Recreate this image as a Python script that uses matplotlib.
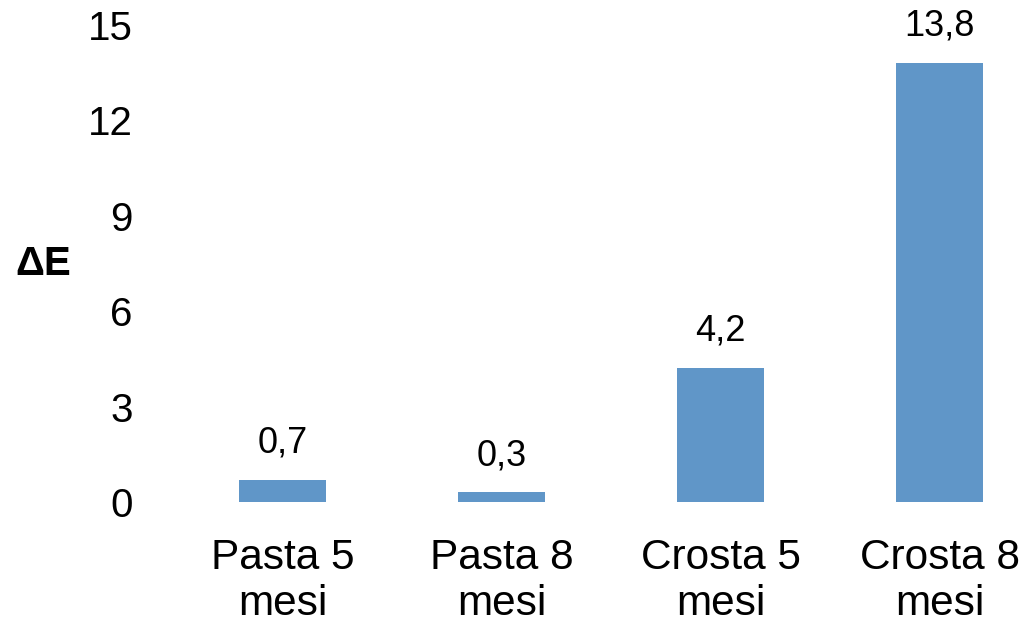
import matplotlib
matplotlib.use("Agg")
import matplotlib.pyplot as plt

categories = ["Pasta 5\nmesi", "Pasta 8\nmesi", "Crosta 5\nmesi", "Crosta 8\nmesi"]
values = [0.7, 0.3, 4.2, 13.8]
value_labels = ["0,7", "0,3", "4,2", "13,8"]
yticks = [0, 3, 6, 9, 12, 15]

plt.rcParams['font.family'] = ['Liberation Sans', 'DejaVu Sans']

fig = plt.figure(figsize=(10.36, 6.25), dpi=100)
ax = fig.add_axes([173/1036, (625-502)/625, (1036-173)/1036, (502-25)/625])

x = list(range(len(categories)))
bars = ax.bar(x, values, width=0.4, color='#6096C8')
for xi, v, lab in zip(x, values, value_labels):
    ax.annotate(lab, (xi, v), xytext=(0, 14), textcoords='offset points',
                ha='center', va='bottom', fontsize=26)

ax.set_xlim(-0.5, 3.44)
ax.set_ylim(0, 15)
ax.set_yticks(yticks)
ax.set_yticklabels([str(t) for t in yticks], fontsize=29)
ax.set_xticks(x)
ax.set_xticklabels(categories, fontsize=30.5, linespacing=1.2)
ax.tick_params(axis='both', length=0)
ax.tick_params(axis='y', pad=29)
ax.tick_params(axis='x', pad=26)
for s in ax.spines.values():
    s.set_visible(False)

fig.text(43/1036, 1 - 264/625, "ΔE", fontsize=29, fontweight='bold', ha='center', va='center')

fig.savefig("out.png", dpi=100)
